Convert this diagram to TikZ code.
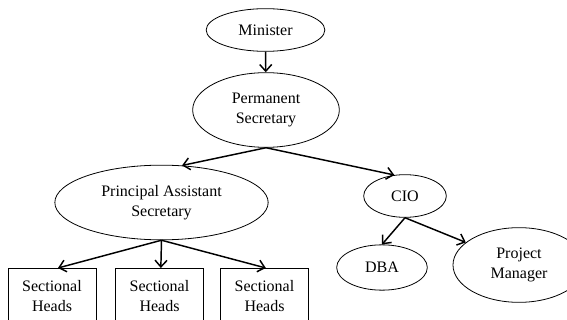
\documentclass[tikz,border=0pt]{standalone}
\usepackage{fontspec}
\setmainfont{Liberation Serif}
\usetikzlibrary{shapes.geometric,arrows.meta}
\begin{document}
\begin{tikzpicture}[x=0.75pt,y=-0.75pt,
  oval/.style={ellipse, draw, line width=0.6pt, inner sep=0pt, align=center, font=\fontsize{12}{15}\selectfont},
  caixa/.style={rectangle, draw, line width=0.6pt, minimum width=66pt, minimum height=42pt, inner sep=0pt, anchor=north, align=center, font=\fontsize{12}{15}\selectfont},
  seta/.style={line width=1.1pt, -{Straight Barb[length=5pt,width=9pt]}}]
\useasboundingbox (0,0) rectangle (567,320);
% Organograma do ministério
\node[oval, minimum width=89pt, minimum height=32pt] (min) at (265.5,30) {Minister};
\node[oval, minimum width=110pt, minimum height=56pt] (ps) at (266,110) {Permanent\\Secretary};
\node[oval, minimum width=160pt, minimum height=56pt] (pas) at (161.5,202.5) {Principal Assistant\\Secretary};
\node[oval, minimum width=62pt, minimum height=32pt] (cio) at (405,196) {CIO};
\node[oval, minimum width=68pt, minimum height=34pt] (dba) at (382,267.5) {DBA};
\node[oval, minimum width=99pt, minimum height=56pt] (pm) at (519,265) {Project\\Manager};
\node[caixa] (sh1) at (52,268) {Sectional\\Heads};
\node[caixa] (sh2) at (159.5,268) {Sectional\\Heads};
\node[caixa] (sh3) at (264.5,268) {Sectional\\Heads};
\draw[seta] (min) -- (ps);
\draw[seta] (ps.south) -- (pas.61);
\draw[seta] (ps.south) -- (cio.117);
\draw[seta] (pas.south) -- ([xshift=4.5pt]sh1.north);
\draw[seta] (pas.south) -- ([xshift=1pt]sh2.north);
\draw[seta] (pas.south) -- ([xshift=1pt]sh3.north);
\draw[seta] (cio.south) -- (dba.north);
\draw[seta] (cio.south) -- (pm.157);
\end{tikzpicture}
\end{document}
